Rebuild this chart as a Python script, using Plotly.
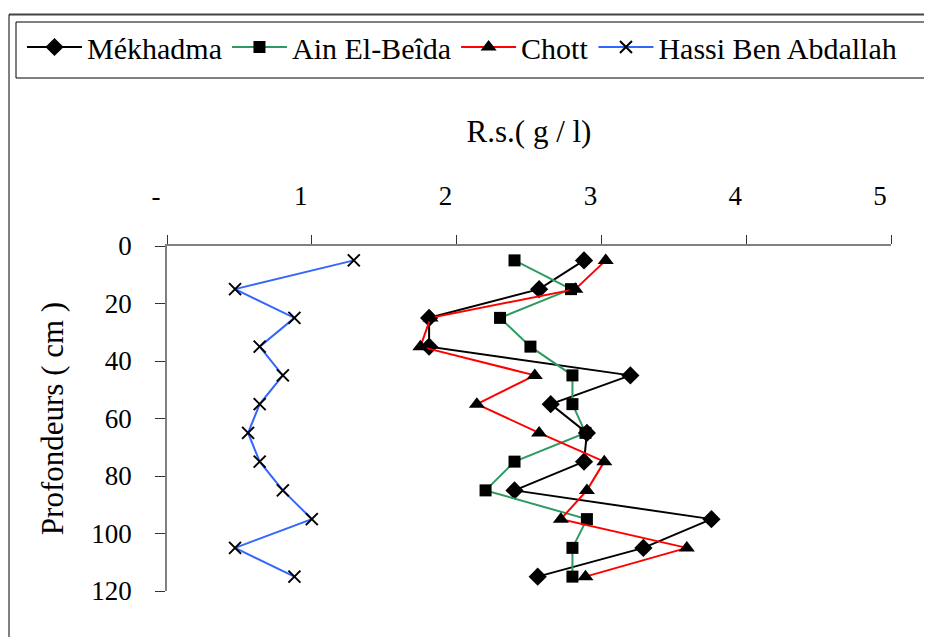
import plotly.graph_objects as go

depths = [5, 15, 25, 35, 45, 55, 65, 75, 85, 95, 105, 115]
mekhadma = [2.88, 2.57, 1.81, 1.81, 3.20, 2.65, 2.90, 2.88, 2.40, 3.76, 3.29, 2.56]
ain_el_beida = [2.40, 2.79, 2.30, 2.51, 2.80, 2.80, 2.89, 2.40, 2.20, 2.90, 2.80, 2.80]
chott = [3.03, 2.82, 1.82, 1.75, 2.54, 2.14, 2.57, 3.02, 2.90, 2.72, 3.59, 2.89]
hassi = [1.29, 0.47, 0.88, 0.64, 0.80, 0.64, 0.56, 0.64, 0.80, 1.00, 0.47, 0.88]

x_tickvals = [0, 1, 2, 3, 4, 5]
x_ticktext = ["-", "1", "2", "3", "4", "5"]
y_tickvals = [0, 20, 40, 60, 80, 100, 120]

FONT = "Liberation Serif"
OFF = 8  # page body margin
W, H = 932 - OFF, 637 - OFF
L, R, T, B = 167 - OFF, 41, 246 - OFF, 46
PW, PH = W - L - R, H - T - B


def px(x):
    return (x - OFF - L) / PW


def py(y):
    return (H - B - (y - OFF)) / PH


def hline(x0, x1, y, color, width):
    return dict(type="line", xref="paper", yref="paper", x0=px(x0), x1=px(x1),
                y0=py(y), y1=py(y), line=dict(color=color, width=width), layer="below")


def vline(x, y0, y1, color, width):
    return dict(type="line", xref="paper", yref="paper", x0=px(x), x1=px(x),
                y0=py(y0), y1=py(y1), line=dict(color=color, width=width), layer="below")


fig = go.Figure()
fig.add_trace(go.Scatter(x=mekhadma, y=depths, name="Mékhadma", mode="lines+markers",
                         line=dict(color="black", width=2),
                         marker=dict(symbol="diamond", size=14, color="black")))
fig.add_trace(go.Scatter(x=ain_el_beida, y=depths, name="Ain El-Beîda", mode="lines+markers",
                         line=dict(color="#2E9A62", width=2),
                         marker=dict(symbol="square", size=12, color="black")))
fig.add_trace(go.Scatter(x=chott, y=depths, name="Chott", mode="lines+markers",
                         line=dict(color="#FF0000", width=2),
                         marker=dict(symbol="triangle-up", size=14, color="black")))
fig.add_trace(go.Scatter(x=hassi, y=depths, name="Hassi Ben Abdallah", mode="lines+markers",
                         line=dict(color="#3366FF", width=2),
                         marker=dict(symbol="x-thin", size=12, color="black",
                                     line=dict(color="black", width=2))))

fig.update_layout(
    width=W, height=H,
    margin=dict(l=L, r=R, t=T, b=B, autoexpand=False),
    paper_bgcolor="white", plot_bgcolor="white",
    font=dict(family=FONT, size=27, color="black"),
    showlegend=True,
    legend=dict(orientation="h", x=px(22), y=py(47), xanchor="left", yanchor="middle",
                font=dict(family=FONT, size=30, color="black"),
                bgcolor="rgba(0,0,0,0)", borderwidth=0,
                itemwidth=55, tracegroupgap=0),
    xaxis=dict(side="top", range=[0, 5], tickvals=x_tickvals, ticktext=x_ticktext,
               showgrid=False, zeroline=False, showline=True, linecolor="#808080",
               linewidth=1.5, ticks="outside", ticklen=9, tickcolor="#333333",
               tickfont=dict(family=FONT, size=27), ticklabelshift=-11,
               ticklabelstandoff=19, automargin=False,
               title=dict(text="R.s.( g / l)", font=dict(family=FONT, size=31), standoff=30)),
    yaxis=dict(range=[120, 0], tickvals=y_tickvals, showgrid=False, zeroline=False,
               showline=True, linecolor="#808080", linewidth=1.5, ticks="outside",
               ticklen=10, tickcolor="#333333", tickfont=dict(family=FONT, size=27),
               ticklabelstandoff=18, automargin=False,
               title=dict(text="Profondeurs ( cm )", font=dict(family=FONT, size=31), standoff=18)),
    shapes=[
        hline(9, 1000, 14.5, "#444444", 2),
        vline(9, 14.5, 700, "black", 1),
        hline(16, 1000, 22, "black", 1),
        hline(16, 1000, 78, "black", 1),
        vline(16, 22, 78, "black", 1),
    ],
)

fig.write_html("out.html")
